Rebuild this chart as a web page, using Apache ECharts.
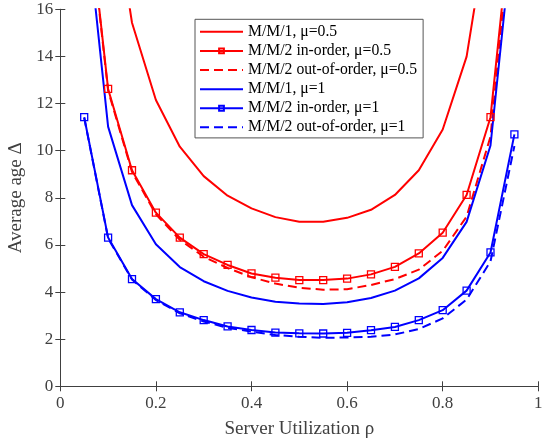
<!DOCTYPE html>
<html>
<head>
<meta charset="utf-8">
<script src="https://cdn.jsdelivr.net/npm/echarts@6/dist/echarts.min.js"></script>
<style>html,body{margin:0;padding:0;background:#fff}#c{width:554px;height:441px}</style>
</head>
<body>
<div id="c"></div>
<script>
// Server utilization rho
var rho = [0.05, 0.10, 0.15, 0.20, 0.25, 0.30, 0.35, 0.40, 0.45, 0.50, 0.55, 0.60, 0.65, 0.70, 0.75, 0.80, 0.85, 0.90, 0.95];
// Average age values (values above 16 run off the top)
var mm1_mu05      = [null, 22.0, 15.43, 12.15, 10.17, 8.92, 8.09, 7.55, 7.18, 6.98, 6.98, 7.15, 7.49, 8.12, 9.17, 10.9, 13.99, 20.3, null];
var mm2in_mu05    = [21.8, 12.62, 9.17, 7.37, 6.31, 5.61, 5.15, 4.79, 4.61, 4.51, 4.51, 4.57, 4.75, 5.07, 5.64, 6.52, 8.12, 11.42, 21.2];
var mm2out_mu05   = [21.7, 12.55, 9.10, 7.30, 6.22, 5.50, 5.02, 4.63, 4.36, 4.18, 4.10, 4.12, 4.30, 4.55, 4.95, 5.75, 7.20, 10.6, 21.0];
var mm1_mu1       = [20.6, 11.02, 7.69, 6.03, 5.06, 4.46, 4.05, 3.77, 3.59, 3.51, 3.49, 3.57, 3.75, 4.06, 4.58, 5.45, 6.98, 10.22, 20.0];
var mm2in_mu1     = [11.42, 6.31, 4.55, 3.70, 3.14, 2.81, 2.54, 2.39, 2.28, 2.25, 2.24, 2.27, 2.38, 2.52, 2.81, 3.23, 4.06, 5.68, 10.69];
var mm2out_mu1    = [11.40, 6.28, 4.53, 3.66, 3.10, 2.75, 2.48, 2.32, 2.18, 2.10, 2.06, 2.07, 2.10, 2.20, 2.43, 2.88, 3.68, 5.30, 10.2];
var seriesNames = ['M/M/1, \u03bc=0.5', 'M/M/2 in-order, \u03bc=0.5', 'M/M/2 out-of-order, \u03bc=0.5',
                   'M/M/1, \u03bc=1', 'M/M/2 in-order, \u03bc=1', 'M/M/2 out-of-order, \u03bc=1'];
var xTicks = [0, 0.2, 0.4, 0.6, 0.8, 1];
var yTicks = [0, 2, 4, 6, 8, 10, 12, 14, 16];

function pairs(ys) { return rho.map(function (x, i) { return [x, ys[i]]; }); }

var RED = '#ff0000', BLUE = '#0000ff', AX = '#404040';
var FONT = '"Liberation Serif", "Times New Roman", serif';

function mk(name, ys, color, dashed, marker) {
  return {
    name: name, type: 'line', data: pairs(ys),
    xAxisIndex: 0, yAxisIndex: 0,
    symbol: marker ? 'rect' : 'none', symbolSize: 7,
    showSymbol: !!marker,
    clip: true,
    lineStyle: { color: color, width: 2, type: dashed ? [9, 5] : 'solid' },
    itemStyle: marker
      ? { color: 'rgba(255,255,255,0)', borderColor: color, borderWidth: 1.3 }
      : { color: 'rgba(255,255,255,0)', borderColor: 'rgba(255,255,255,0)', borderWidth: 0, opacity: 0 },
    emphasis: { disabled: true },
    animation: false
  };
}

var legendData = seriesNames.map(function (n, i) {
  return (i % 3 === 1) ? { name: n } : { name: n, itemStyle: { opacity: 0 } };
});

var chart = echarts.init(document.getElementById('c'), null, { renderer: 'canvas' });
var axCommon = {
  type: 'value',
  axisLine: { show: true, lineStyle: { color: AX, width: 1 } },
  axisTick: { show: true, inside: true, length: 5, lineStyle: { color: AX } },
  splitLine: { show: false }
};
chart.setOption({
  backgroundColor: '#fff',
  animation: false,
  grid: { left: 60.3, right: 15.7, top: 9.3, bottom: 54.7, containLabel: false, outerBoundsMode: 'none' },
  xAxis: [
    Object.assign({}, axCommon, {
      position: 'bottom', min: xTicks[0], max: xTicks[xTicks.length - 1], interval: xTicks[1] - xTicks[0],
      axisLabel: { color: AX, fontFamily: FONT, fontSize: 17, margin: 9 },
      name: 'Server Utilization \u03c1', nameLocation: 'middle', nameGap: 33,
      nameTextStyle: { color: AX, fontFamily: FONT, fontSize: 19 }
    }),
    Object.assign({}, axCommon, {
      position: 'top', min: xTicks[0], max: xTicks[xTicks.length - 1], interval: xTicks[1] - xTicks[0],
      axisLabel: { show: false }
    })
  ],
  yAxis: [
    Object.assign({}, axCommon, {
      position: 'left', min: yTicks[0], max: yTicks[yTicks.length - 1], interval: yTicks[1] - yTicks[0],
      axisLabel: { color: AX, fontFamily: FONT, fontSize: 17, margin: 7 },
      name: 'Average age \u0394', nameLocation: 'middle', nameGap: 26, nameRotate: 90,
      nameTextStyle: { color: AX, fontFamily: FONT, fontSize: 19 }
    }),
    Object.assign({}, axCommon, {
      position: 'right', min: yTicks[0], max: yTicks[yTicks.length - 1], interval: yTicks[1] - yTicks[0],
      axisLabel: { show: false }
    })
  ],
  legend: {
    orient: 'vertical', left: 195, top: 19.3,
    backgroundColor: '#fff', borderColor: '#555', borderWidth: 1,
    padding: [3, 6, 1, 4], itemGap: 0, itemWidth: 43, itemHeight: 6,
    textStyle: { color: '#000', fontFamily: FONT, fontSize: 15.7, lineHeight: 19.1 },
    selectedMode: false,
    data: legendData
  },
  series: [
    mk(seriesNames[0], mm1_mu05, RED, false, false),
    mk(seriesNames[1], mm2in_mu05, RED, false, true),
    mk(seriesNames[2], mm2out_mu05, RED, true, false),
    mk(seriesNames[3], mm1_mu1, BLUE, false, false),
    mk(seriesNames[4], mm2in_mu1, BLUE, false, true),
    mk(seriesNames[5], mm2out_mu1, BLUE, true, false)
  ]
});
</script>
</body>
</html>
